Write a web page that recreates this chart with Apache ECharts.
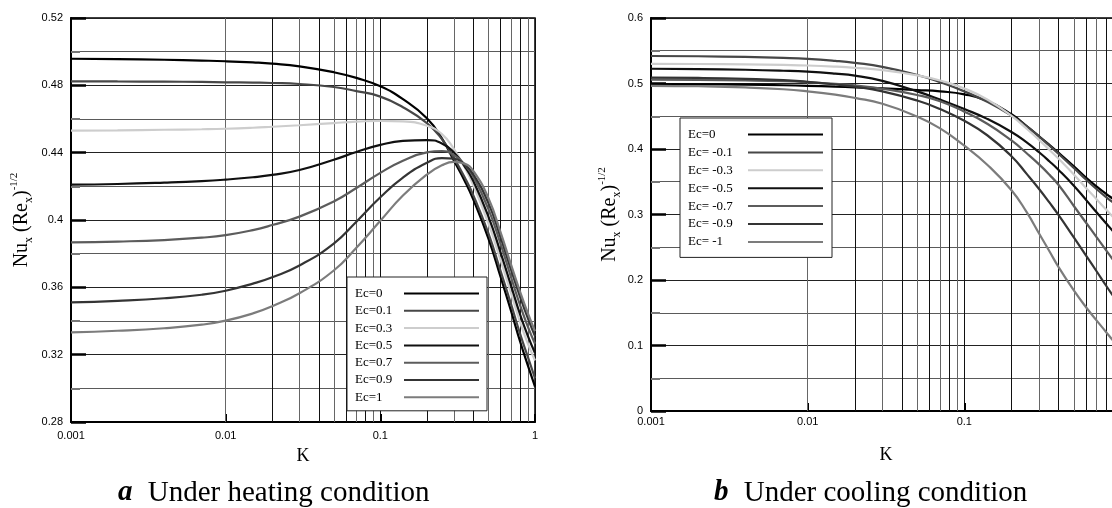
<!DOCTYPE html>
<html>
<head>
<meta charset="utf-8">
<script src="https://cdn.jsdelivr.net/npm/echarts@6/dist/echarts.min.js"></script>
<style>html,body{margin:0;padding:0;background:#fff}#c{width:1112px;height:508px}</style>
</head>
<body>
<div id="c"></div>
<script>
// ---------- data ----------
const xTicks = [0.001, 0.01, 0.1, 1];
const xTickLabels = ['0.001', '0.01', '0.1', '1'];
const minorK = [0.002,0.003,0.004,0.005,0.006,0.007,0.008,0.009,
                0.02,0.03,0.04,0.05,0.06,0.07,0.08,0.09,
                0.2,0.3,0.4,0.5,0.6,0.7,0.8,0.9];

// (a) heating
const kHeat = [0.001,0.002,0.004,0.007,0.01,0.015,0.02,0.03,0.05,0.07,0.1,0.14,0.2,0.25,0.3,0.35,0.4,0.5,0.6,0.7,0.8,0.9,1];
const namesHeat = ['Ec=0','Ec=0.1','Ec=0.3','Ec=0.5','Ec=0.7','Ec=0.9','Ec=1'];
const heatEc0  = [0.4958,0.4956,0.4952,0.4947,0.4943,0.4936,0.4929,0.4913,0.4878,0.4844,0.4794,0.4718,0.4605,0.4485,0.4350,0.4235,0.4120,0.3890,0.3660,0.3460,0.3280,0.3135,0.3010];
const heatEc01 = [0.4824,0.4823,0.4822,0.4820,0.4818,0.4816,0.4814,0.4808,0.4790,0.4766,0.4733,0.4670,0.4576,0.4480,0.4365,0.4255,0.4145,0.3920,0.3695,0.3500,0.3325,0.3185,0.3060];
const heatEc03 = [0.4531,0.4533,0.4536,0.4539,0.4542,0.4548,0.4554,0.4563,0.4576,0.4584,0.4589,0.4586,0.4560,0.4510,0.4420,0.4315,0.4205,0.3980,0.3760,0.3565,0.3395,0.3265,0.3165];
const heatEc05 = [0.4210,0.4214,0.4222,0.4231,0.4240,0.4254,0.4268,0.4297,0.4358,0.4404,0.4446,0.4470,0.4475,0.4455,0.4400,0.4320,0.4230,0.4020,0.3805,0.3610,0.3440,0.3310,0.3210];
const heatEc07 = [0.3867,0.3872,0.3881,0.3895,0.3910,0.3940,0.3970,0.4020,0.4110,0.4190,0.4280,0.4352,0.4402,0.4410,0.4385,0.4330,0.4255,0.4065,0.3855,0.3660,0.3495,0.3365,0.3265];
const heatEc09 = [0.3511,0.3520,0.3535,0.3556,0.3580,0.3622,0.3660,0.3730,0.3860,0.3990,0.4135,0.4252,0.4340,0.4368,0.4365,0.4330,0.4270,0.4100,0.3895,0.3705,0.3545,0.3415,0.3310];
const heatEc1  = [0.3333,0.3342,0.3357,0.3378,0.3402,0.3445,0.3488,0.3565,0.3700,0.3835,0.3995,0.4145,0.4270,0.4325,0.4345,0.4335,0.4290,0.4130,0.3925,0.3735,0.3575,0.3445,0.3340];

// (b) cooling
const kCool = [0.001,0.002,0.004,0.007,0.01,0.015,0.02,0.03,0.05,0.07,0.1,0.14,0.2,0.25,0.3,0.35,0.4,0.5,0.6,0.7,0.8,0.9,1];
const namesCool = ['Ec=0','Ec= -0.1','Ec= -0.3','Ec= -0.5','Ec= -0.7','Ec= -0.9','Ec= -1'];
const coolEc0   = [0.4990,0.4988,0.4982,0.4973,0.4965,0.4952,0.4942,0.4925,0.4900,0.4880,0.4835,0.4735,0.4530,0.4350,0.4195,0.4060,0.3940,0.3735,0.3560,0.3425,0.3320,0.3230,0.3150];
const coolEcm01 = [0.5420,0.5416,0.5405,0.5390,0.5375,0.5345,0.5315,0.5255,0.5130,0.5020,0.4880,0.4720,0.4510,0.4345,0.4190,0.4050,0.3925,0.3710,0.3530,0.3385,0.3270,0.3175,0.3090];
const coolEcm03 = [0.5300,0.5298,0.5292,0.5283,0.5275,0.5258,0.5240,0.5205,0.5125,0.5045,0.4925,0.4755,0.4505,0.4310,0.4140,0.3985,0.3850,0.3610,0.3400,0.3230,0.3080,0.2950,0.2840];
const coolEcm05 = [0.5225,0.5220,0.5210,0.5195,0.5180,0.5150,0.5120,0.5040,0.4880,0.4755,0.4610,0.4460,0.4260,0.4100,0.3950,0.3810,0.3680,0.3440,0.3220,0.3030,0.2870,0.2730,0.2610];
const coolEcm07 = [0.5060,0.5056,0.5047,0.5035,0.5020,0.4995,0.4970,0.4920,0.4825,0.4730,0.4570,0.4385,0.4130,0.3935,0.3765,0.3605,0.3450,0.3130,0.2870,0.2650,0.2460,0.2290,0.2140];
const coolEcm09 = [0.5090,0.5085,0.5072,0.5053,0.5025,0.4985,0.4950,0.4880,0.4740,0.4610,0.4430,0.4210,0.3890,0.3620,0.3390,0.3180,0.2990,0.2650,0.2370,0.2130,0.1920,0.1740,0.1580];
const coolEcm1  = [0.4965,0.4958,0.4940,0.4912,0.4880,0.4830,0.4780,0.4690,0.4495,0.4315,0.4050,0.3760,0.3370,0.3035,0.2710,0.2435,0.2195,0.1840,0.1580,0.1380,0.1210,0.1060,0.0930];

// ---------- styles ----------
const serif = "'Liberation Serif','Times New Roman',serif";
const sans = "'Liberation Sans',Arial,sans-serif";
const lineColors = ['#000000','#474747','#cdcdcd','#101010','#5c5c5c','#343434','#7c7c7c'];

const heatSets = [heatEc0, heatEc01, heatEc03, heatEc05, heatEc07, heatEc09, heatEc1];
const coolSets = [coolEc0, coolEcm01, coolEcm03, coolEcm05, coolEcm07, coolEcm09, coolEcm1];

function pairs(k, v) { return k.map((x, i) => [x, v[i]]); }

function xLabel(v) {
  const i = xTicks.findIndex(t => Math.abs(Math.log10(t) - Math.log10(v)) < 1e-6);
  return i >= 0 ? xTickLabels[i] : '';
}

const yNameRich = {
  n: {fontFamily: serif, fontSize: 20, lineHeight: 26, verticalAlign: 'middle', color: '#000'},
  s: {fontFamily: serif, fontSize: 12, lineHeight: 12, verticalAlign: 'bottom', color: '#000'},
  p: {fontFamily: serif, fontSize: 11, lineHeight: 11, verticalAlign: 'top', color: '#000'}
};
const yName = '{n|Nu}{s|x}{n| (Re}{s|x}{n|)}{p|-1/2}';

function makeX(idx, nameGap, labelMargin) {
  return {
    type: 'log', logBase: 10, gridIndex: idx, min: 0.001, max: 1,
    name: 'K', nameLocation: 'middle', nameGap: nameGap,
    nameTextStyle: {fontFamily: serif, fontSize: 18, lineHeight: 20, color: '#000'},
    axisLine: {show: true, onZero: false, lineStyle: {color: '#000', width: 2}},
    axisTick: {show: true, inside: true, length: 8, lineStyle: {color: '#000', width: 2}},
    axisLabel: {formatter: xLabel, fontFamily: sans, fontSize: 11, color: '#000', margin: labelMargin, showMinLabel: true, showMaxLabel: true},
    splitLine: {show: true, lineStyle: {color: '#111', width: 1}}
  };
}
function makeY(idx, min, max, interval, nameGap) {
  return {
    type: 'value', gridIndex: idx, min: min, max: max, interval: interval,
    name: yName, nameLocation: 'middle', nameRotate: 90, nameGap: nameGap,
    nameTextStyle: {rich: yNameRich},
    axisLine: {show: true, lineStyle: {color: '#000', width: 2}},
    axisTick: {show: true, inside: true, length: 15, lineStyle: {color: '#000', width: 2.5}},
    minorTick: {show: true, splitNumber: 2, length: 9, lineStyle: {color: '#777', width: 2}},
    minorSplitLine: {show: true, lineStyle: {color: '#5a5a5a', width: 1}},
    axisLabel: {fontFamily: sans, fontSize: 11, color: '#000', margin: 8},
    splitLine: {show: true, lineStyle: {color: '#222', width: 1}}
  };
}

function gridLinesSeries(idx) {
  return {
    type: 'line', xAxisIndex: idx, yAxisIndex: idx, data: [], silent: true, z: 1,
    markLine: {
      silent: true, symbol: ['none', 'none'], label: {show: false}, animation: false, z: 1,
      lineStyle: {type: 'solid', width: 1, color: '#222'},
      data: minorK.map((k, i) => ({xAxis: k, lineStyle: {type: 'solid', width: 1, color: i % 2 ? '#666' : '#111'}}))
    }
  };
}

const series = [gridLinesSeries(0), gridLinesSeries(1)];
namesHeat.forEach((n, i) => series.push({
  name: n, type: 'line', xAxisIndex: 0, yAxisIndex: 0, data: pairs(kHeat, heatSets[i]),
  symbol: 'none', showSymbol: false, smooth: 0.5, z: 3,
  lineStyle: {color: lineColors[i], width: 2.2}, itemStyle: {color: lineColors[i]}
}));
namesCool.forEach((n, i) => series.push({
  name: n, type: 'line', xAxisIndex: 1, yAxisIndex: 1, data: pairs(kCool, coolSets[i]),
  symbol: 'none', showSymbol: false, smooth: 0.5, z: 3,
  lineStyle: {color: lineColors[i], width: 2.2}, itemStyle: {color: lineColors[i]}
}));

function makeLegend(names, left, top, textW, gap, pad) {
  return {
    data: names, orient: 'vertical', left: left, top: top, align: 'right',
    itemWidth: 75, itemHeight: 14, itemGap: gap, padding: pad,
    backgroundColor: '#fff', borderColor: '#222', borderWidth: 1, selectedMode: false,
    itemStyle: {opacity: 0, borderWidth: 0},
    formatter: n => '{t|' + n + '}',
    textStyle: {rich: {t: {width: textW, align: 'left', fontSize: 13, fontFamily: serif, color: '#000', lineHeight: 14}}}
  };
}

const capRich = {
  b: {fontFamily: serif, fontSize: 29, fontWeight: 'bold', fontStyle: 'italic', lineHeight: 34, color: '#000', padding: [0, 8, 0, 0]},
  r: {fontFamily: serif, fontSize: 29, fontWeight: 'normal', lineHeight: 34, color: '#000'}
};

const option = {
  animation: false,
  backgroundColor: '#fff',
  title: [
    {text: '{b|a}{r| Under heating condition}', left: 118, top: 476, padding: 0, textStyle: {fontWeight: 'normal', rich: capRich}},
    {text: '{b|b}{r| Under cooling condition}', left: 714, top: 476, padding: 0, textStyle: {fontWeight: 'normal', rich: capRich}}
  ],
  legend: [
    makeLegend(namesHeat, 347, 277, 44, 4.3, [10, 7, 7, 8]),
    makeLegend(namesCool, 680, 118, 55, 4.9, [10, 8, 9, 8])
  ],
  grid: [
    {left: 71, top: 18, width: 464, height: 404, show: true, borderColor: '#000', borderWidth: 1.5, backgroundColor: 'rgba(0,0,0,0)', outerBoundsMode: 'none', containLabel: false},
    {left: 651, top: 18, width: 470, height: 393, show: true, borderColor: '#000', borderWidth: 1.5, backgroundColor: 'rgba(0,0,0,0)', outerBoundsMode: 'none', containLabel: false}
  ],
  xAxis: [makeX(0, 21, 8), makeX(1, 34, 5)],
  yAxis: [makeY(0, 0.28, 0.52, 0.04, 36), makeY(1, 0, 0.6, 0.1, 28)],
  series: series
};

const chart = echarts.init(document.getElementById('c'), null, {renderer: 'canvas'});
chart.setOption(option);
</script>
</body>
</html>
